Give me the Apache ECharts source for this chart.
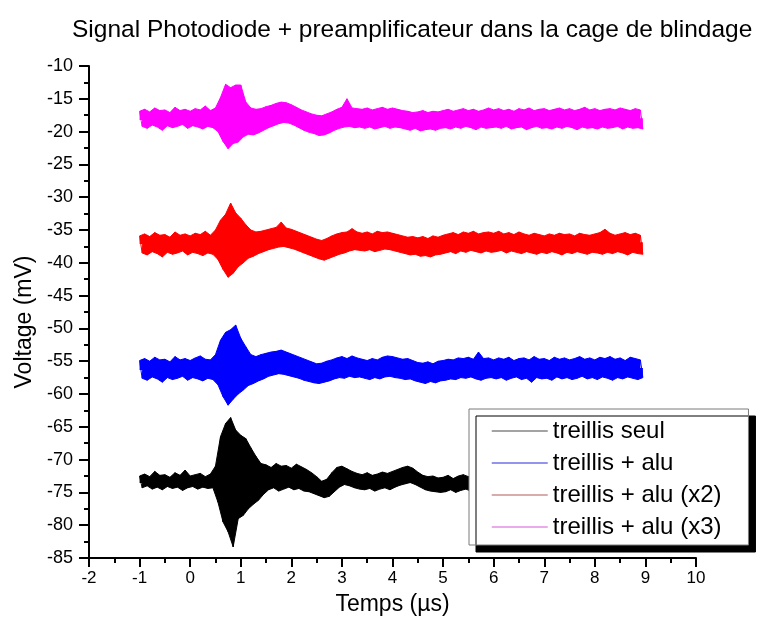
<!DOCTYPE html>
<html>
<head>
<meta charset="utf-8">
<script src="https://cdn.jsdelivr.net/npm/echarts@6/dist/echarts.min.js"></script>
<style>
html,body{margin:0;padding:0;background:#fff;}
#chart{width:762px;height:631px;}
</style>
</head>
<body>
<div id="chart"></div>
<script>
// Time axis of the traces: first sample and step (µs)
const tStart = -1;
const tStep = 0.1;

const seriesNames = ['treillis seul', 'treillis + alu', 'treillis + alu (x2)', 'treillis + alu (x3)'];
const xTicks = { min: -2, max: 10, interval: 1 };
const yTicks = { min: -85, max: -10, interval: 5 };

// Mean level of each trace (mV)
const midLevels = [-73.4, -56.2, -37.0, -18.1];

// Upper peaks (at t) and lower troughs (at t + step/2), mV
const blackHi = [
-72.5,-72.2,-72.6,-71.8,-72.4,-72.3,-72.7,-72.0,-72.4,-71.6,
-72.5,-72.3,-72.1,-72.6,-72.2,
-71.0,-66.5,-64.5,-63.6,-65.5,-66.3,-66.8,-68.2,-69.5,-70.6,
-70.8,-71.2,-70.6,-71.0,-70.9,-71.3,-70.7,-71.1,-71.5,
-72.0,-72.6,-73.3,-73.0,-72.0,-71.2,-71.0,-71.4,-71.8,-72.1,
-72.3,-72.0,-72.4,-72.2,-71.9,-72.1,-71.8,
-71.5,-71.2,-71.0,-71.3,-71.9,-72.4,-72.6,-72.5,-72.8,
-72.7,-72.4,-72.9,-72.5,-72.3,-72.6,-72.2,-72.5,-72.7,-72.3,
-72.4,-72.1,-72.6,-72.3,-72.0,-72.5,-72.2,-72.6,-72.3,-72.1,
-72.5,-72.2,-72.4,-72.0,-72.6,-72.3,-72.1,-72.5,-72.2,-72.4,
-72.3,-72.6,-72.1,-72.4,-72.2,-72.5,-72.0,-72.3,-72.6,-72.4
];
const blackLo = [
-74.3,-74.0,-74.5,-74.2,-74.6,-74.1,-74.4,-74.2,-74.7,-74.3,
-74.1,-74.5,-74.2,-74.4,-74.3,
-76.5,-79.5,-81.0,-83.3,-79.0,-78.5,-77.5,-76.8,-76.2,-75.3,
-74.6,-74.3,-74.8,-74.5,-74.2,-74.6,-74.4,-74.8,-74.9,
-75.2,-75.5,-75.8,-75.6,-74.9,-74.2,-73.8,-74.0,-74.3,-74.5,
-74.6,-74.4,-74.8,-74.5,-74.3,-74.6,-74.2,
-73.9,-73.7,-73.5,-73.8,-74.2,-74.6,-74.8,-74.9,-75.0,
-74.9,-74.6,-75.0,-74.7,-74.5,-74.8,-74.4,-74.7,-74.9,-74.6,
-74.4,-74.6,-74.2,-74.5,-74.3,-74.7,-74.4,-74.2,-74.6,-74.3,
-74.5,-74.2,-74.7,-74.4,-74.3,-74.6,-74.2,-74.5,-74.4,-74.7,
-74.3,-74.5,-74.2,-74.6,-74.4,-74.3,-74.7,-74.5,-74.2,-74.4
];
const blueHi = [
-54.9,-54.6,-55.0,-54.4,-54.8,-54.7,-55.1,-54.3,-54.8,-54.6,
-54.9,-54.5,-54.2,-54.7,-54.8,
-54.0,-51.8,-50.6,-50.2,-49.5,-51.5,-52.8,-54.0,-54.3,-54.0,
-53.8,-53.6,-53.5,-53.3,-53.6,-53.9,-54.2,-54.5,-54.8,
-55.1,-55.4,-55.3,-55.0,-54.8,-54.5,-54.3,-54.6,-54.2,-54.5,
-54.7,-54.9,-54.6,-54.8,-54.4,-54.2,-54.3,
-54.5,-54.7,-54.6,-54.9,-55.2,-55.3,-55.1,-55.4,-55.0,
-54.9,-54.7,-54.8,-54.5,-54.6,-54.4,-54.7,-53.6,-54.6,-54.5,
-54.8,-54.5,-54.7,-54.4,-54.9,-54.6,-54.5,-54.8,-54.3,-54.7,
-54.6,-54.9,-54.4,-54.7,-54.5,-54.8,-54.6,-54.3,-54.7,-54.5,
-54.8,-54.4,-54.6,-54.3,-54.7,-54.5,-54.9,-54.4,-54.6,-54.8
];
const blueLo = [
-57.6,-57.9,-57.4,-57.7,-58.2,-57.5,-57.8,-57.6,-57.3,-57.9,
-57.5,-57.7,-58.0,-57.6,-57.8,
-58.6,-60.4,-61.7,-60.8,-60.0,-59.4,-58.7,-58.4,-58.0,-57.7,
-57.3,-57.1,-56.9,-57.0,-57.2,-57.4,-57.6,-57.9,-58.1,
-58.3,-58.4,-58.2,-58.0,-57.7,-57.5,-57.6,-57.3,-57.5,-57.4,
-57.6,-57.8,-57.5,-57.7,-57.4,-57.3,-57.5,
-57.6,-57.8,-57.7,-58.0,-58.2,-58.4,-58.1,-58.3,-58.0,
-57.9,-57.7,-57.8,-57.5,-57.6,-57.4,-57.7,-57.9,-57.6,-57.5,
-57.7,-57.5,-57.9,-57.6,-57.4,-57.8,-57.6,-58.2,-57.5,-57.7,
-57.6,-57.9,-57.4,-57.7,-57.5,-57.8,-57.6,-57.3,-57.7,-57.5,
-57.8,-57.4,-57.6,-57.9,-57.5,-57.7,-57.4,-57.6,-57.8,-57.5
];
const redHi = [
-35.9,-35.6,-36.0,-35.4,-35.8,-35.7,-36.1,-35.3,-35.8,-35.6,
-35.9,-35.5,-35.7,-35.2,-35.8,
-35.0,-33.5,-32.6,-30.9,-32.4,-33.2,-34.2,-35.0,-35.3,-35.2,
-35.0,-34.8,-34.6,-33.8,-34.7,-34.9,-35.2,-35.5,-35.8,
-36.1,-36.4,-36.6,-36.3,-35.9,-35.6,-35.4,-35.3,-34.8,-35.3,
-35.5,-35.3,-35.6,-35.2,-35.4,-35.3,-35.5,
-35.7,-35.9,-36.1,-36.0,-36.2,-36.0,-36.3,-35.9,-36.1,
-35.8,-35.6,-35.4,-35.7,-35.3,-35.5,-35.2,-35.6,-35.4,-35.3,
-35.5,-35.2,-35.6,-35.4,-35.7,-35.3,-35.6,-35.8,-35.5,-35.7,
-35.9,-35.6,-35.8,-35.5,-35.7,-35.6,-35.9,-35.5,-35.7,-35.8,
-35.6,-35.4,-34.9,-35.5,-35.8,-35.6,-35.4,-35.7,-35.5,-35.8
];
const redLo = [
-38.5,-38.8,-38.3,-38.6,-39.1,-38.4,-38.7,-38.5,-38.2,-38.8,
-38.4,-38.6,-38.9,-38.5,-38.7,
-39.5,-41.0,-42.2,-41.6,-40.6,-40.0,-39.3,-39.0,-38.6,-38.3,
-38.0,-37.8,-37.6,-37.5,-37.7,-37.9,-38.2,-38.5,-38.8,
-39.1,-39.4,-39.6,-39.3,-39.0,-38.7,-38.5,-38.2,-38.0,-38.1,
-38.2,-38.0,-38.3,-38.1,-37.9,-38.0,-38.2,
-38.4,-38.6,-38.8,-38.7,-39.0,-38.9,-39.1,-38.8,-38.7,
-38.5,-38.3,-38.6,-38.2,-38.4,-38.1,-38.3,-38.5,-38.2,-38.4,
-38.3,-38.1,-38.5,-38.2,-38.4,-38.6,-38.3,-38.5,-38.7,-38.4,
-38.6,-38.3,-38.5,-38.8,-38.4,-38.6,-38.3,-38.5,-38.7,-38.4,
-38.5,-38.7,-38.4,-38.6,-38.3,-38.5,-38.8,-38.4,-38.6,-38.7
];
const pinkHi = [
-16.9,-16.6,-17.0,-16.4,-16.8,-16.7,-17.1,-16.3,-16.8,-16.6,
-16.9,-16.5,-16.7,-16.1,-16.8,
-16.4,-14.8,-12.8,-13.3,-12.9,-12.9,-15.5,-16.4,-16.6,-16.5,
-16.2,-16.0,-15.7,-15.5,-15.6,-15.9,-16.3,-16.7,-17.0,
-17.3,-17.5,-17.6,-17.3,-17.0,-16.6,-16.3,-15.0,-16.4,-16.5,
-16.6,-16.4,-16.7,-16.5,-16.3,-16.6,-16.4,
-16.6,-16.8,-16.9,-17.1,-17.0,-16.8,-17.1,-16.9,-17.0,
-16.8,-16.6,-16.9,-16.7,-16.5,-16.8,-16.6,-16.9,-16.7,-16.4,
-16.7,-16.5,-16.8,-16.6,-16.9,-16.5,-16.7,-16.4,-16.8,-16.6,
-16.5,-16.8,-16.6,-16.4,-16.7,-16.5,-16.8,-16.6,-16.3,-16.7,
-16.5,-16.8,-16.6,-16.5,-16.7,-16.4,-16.6,-16.8,-16.5,-16.7
];
const pinkLo = [
-19.2,-19.5,-19.0,-19.3,-19.8,-19.1,-19.4,-19.2,-18.9,-19.5,
-19.1,-19.3,-19.6,-19.2,-19.4,
-20.0,-21.5,-22.6,-21.8,-21.6,-20.8,-20.4,-20.5,-20.2,-19.8,
-19.4,-19.1,-18.8,-18.6,-18.7,-19.0,-19.4,-19.8,-20.1,
-20.3,-20.6,-20.5,-20.2,-19.8,-19.5,-19.3,-19.2,-19.4,-19.3,
-19.5,-19.3,-19.6,-19.4,-19.2,-19.5,-19.3,
-19.4,-19.6,-19.8,-19.5,-19.9,-19.7,-19.6,-19.8,-19.5,
-19.4,-19.6,-19.3,-19.5,-19.2,-19.4,-19.7,-19.3,-19.5,-19.4,
-19.3,-19.5,-19.2,-19.6,-19.4,-19.3,-19.7,-19.4,-19.2,-19.5,
-19.4,-19.6,-19.3,-19.5,-19.2,-19.4,-19.7,-19.3,-19.5,-19.4,
-19.6,-19.3,-19.5,-19.4,-19.2,-19.6,-19.3,-19.5,-19.4,-19.6
];

function peaks(hi) { return hi.map((v, k) => [+(tStart + k * tStep).toFixed(3), v]); }
function troughs(lo) { return lo.map((v, k) => [+(tStart + (k + 0.5) * tStep).toFixed(3), v]); }
function zigzag(hi, lo) {
  const d = [];
  for (let k = 0; k < hi.length; k++) {
    d.push([+(tStart + k * tStep).toFixed(3), hi[k]]);
    d.push([+(tStart + (k + 0.5) * tStep).toFixed(3), lo[k]]);
  }
  return d;
}

const FONT = '"Liberation Sans", Arial, sans-serif';
const colors = ['#000000', '#0000ff', '#ff0000', '#ff00ff'];
const legendColors = ['#858585', '#7070e8', '#c99090', '#e38fe3'];
const his = [blackHi, blueHi, redHi, pinkHi];
const los = [blackLo, blueLo, redLo, pinkLo];
const seam = 0.15; // small overlap of the two half-bands so no gap shows at the mean level

const series = [];
seriesNames.forEach((n, i) => {
  const common = {
    name: n, type: 'line', symbol: 'none', showSymbol: false,
    itemStyle: { color: colors[i] }, z: 2
  };
  series.push(Object.assign({}, common, {
    data: zigzag(his[i], los[i]),
    lineStyle: { color: colors[i], width: 1 }
  }));
  series.push(Object.assign({}, common, {
    data: peaks(his[i]),
    lineStyle: { color: colors[i], width: 1 },
    areaStyle: { color: colors[i], opacity: 1, origin: midLevels[i] - seam }
  }));
  series.push(Object.assign({}, common, {
    data: troughs(los[i]),
    lineStyle: { color: colors[i], width: 1 },
    areaStyle: { color: colors[i], opacity: 1, origin: midLevels[i] + seam }
  }));
});

const chart = echarts.init(document.getElementById('chart'), null, { renderer: 'canvas' });
chart.setOption({
  animation: false,
  backgroundColor: '#ffffff',
  title: {
    text: 'Signal Photodiode + preamplificateur dans la cage de blindage',
    left: 72, top: 18, padding: 0,
    textStyle: { fontFamily: FONT, fontSize: 24.5, fontWeight: 'normal', color: '#000' }
  },
  grid: { left: 89, right: 66, top: 66, bottom: 73, containLabel: false },
  legend: {
    orient: 'vertical', left: 469, top: 409,
    padding: [10, 27, 6, 22],
    itemWidth: 56, itemHeight: 14, itemGap: 8,
    backgroundColor: '#ffffff', borderColor: '#7a7a7a', borderWidth: 1,
    shadowColor: '#000000', shadowBlur: 0, shadowOffsetX: 7, shadowOffsetY: 7,
    textStyle: { fontFamily: FONT, fontSize: 24, color: '#000', lineHeight: 22 },
    data: seriesNames.map((n, i) => ({
      name: n,
      itemStyle: { opacity: 0 },
      lineStyle: { color: legendColors[i], width: 1.5, opacity: 1 }
    }))
  },
  xAxis: {
    type: 'value', min: xTicks.min, max: xTicks.max, interval: xTicks.interval,
    name: 'Temps (µs)', nameLocation: 'middle', nameGap: 35,
    nameTextStyle: { fontFamily: FONT, fontSize: 23, color: '#000' },
    axisLine: { show: true, onZero: false, lineStyle: { color: '#000', width: 2 } },
    axisTick: { show: true, inside: false, length: 9, lineStyle: { color: '#000', width: 2 } },
    minorTick: { show: true, splitNumber: 2, length: 5, lineStyle: { color: '#000', width: 2 } },
    axisLabel: { fontFamily: FONT, fontSize: 17, color: '#000', margin: 12 },
    splitLine: { show: false }
  },
  yAxis: {
    type: 'value', min: yTicks.min, max: yTicks.max, interval: yTicks.interval,
    name: 'Voltage (mV)', nameLocation: 'middle', nameGap: 50,
    nameTextStyle: { fontFamily: FONT, fontSize: 23, color: '#000', padding: [0, 20, 0, 0] },
    axisLine: { show: true, onZero: false, lineStyle: { color: '#000', width: 2 } },
    axisTick: { show: true, inside: false, length: 10, lineStyle: { color: '#000', width: 2 } },
    minorTick: { show: true, splitNumber: 2, length: 5, lineStyle: { color: '#000', width: 2 } },
    axisLabel: { fontFamily: FONT, fontSize: 18, color: '#000', margin: 16 },
    splitLine: { show: false }
  },
  series: series
});
</script>
</body>
</html>
